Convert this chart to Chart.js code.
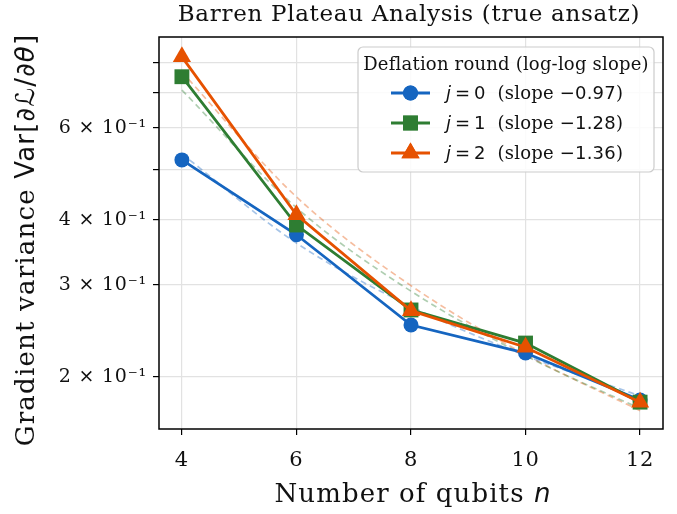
<!DOCTYPE html>
<html>
<head>
<meta charset="utf-8">
<script src="https://cdn.jsdelivr.net/npm/chart.js@4.4.1/dist/chart.umd.min.js"></script>
<style>
  html, body { margin: 0; padding: 0; background: #fff; }
  #wrap { width: 677px; height: 514px; position: relative; }
</style>
</head>
<body>
<div id="wrap"><canvas id="c" width="677" height="514"></canvas></div>
<script>
// ---- data ----
const nQubits = [4, 6, 8, 10, 12];
const varJ0 = [0.521, 0.3745, 0.2515, 0.2223, 0.1807];
const varJ1 = [0.752, 0.391, 0.2688, 0.2323, 0.179];
const varJ2 = [0.821, 0.409, 0.268, 0.228, 0.179];
const fitJ0 = [0.535, 0.361, 0.273, 0.2198, 0.184];
const fitJ1 = [0.709, 0.422, 0.292, 0.2196, 0.174];
const fitJ2 = [0.768, 0.4426, 0.2992, 0.2207, 0.1724];
const roundLabels = ['0', '1', '2'];
const slopeLabels = ['\u22120.97', '\u22121.28', '\u22121.36'];
const xTicks = [4, 6, 8, 10, 12];
const yTicks = [0.2, 0.3, 0.4, 0.5, 0.6, 0.7, 0.8];
const yTickLabels = {0.2: '2', 0.3: '3', 0.4: '4', 0.6: '6'};

const colors = ['#1565C0', '#2E7D32', '#E65100'];
const fitColors = ['rgba(21,101,192,0.38)', 'rgba(46,125,50,0.38)', 'rgba(230,81,0,0.38)'];
const markers = ['circle', 'rect', 'triangle'];
const markerRadius = [7.5, 10.5, 10.5];

const SERIF = '"DejaVu Serif", serif';
const SANS = '"DejaVu Sans", sans-serif';

function pts(arr) { return nQubits.map((n, i) => ({x: n, y: arr[i]})); }

const series = [varJ0, varJ1, varJ2];
const fits = [fitJ0, fitJ1, fitJ2];
const datasets = [];
series.forEach((s, i) => {
  datasets.push({
    label: 'j=' + roundLabels[i],
    data: pts(s),
    borderColor: colors[i],
    backgroundColor: colors[i],
    borderWidth: 2.8,
    pointStyle: markers[i],
    pointRadius: markerRadius[i],
    pointHoverRadius: markerRadius[i],
    pointBorderWidth: 0,
    order: 3 - i
  });
});
fits.forEach((s, i) => {
  datasets.push({
    label: 'fit j=' + roundLabels[i],
    data: pts(s),
    borderColor: fitColors[i],
    borderWidth: 1.7,
    borderDash: [6, 4],
    pointRadius: 0,
    cubicInterpolationMode: 'monotone',
    order: 10
  });
});

function drawRuns(ctx, runs, x, y, align, ls) {
  ctx.letterSpacing = (ls || 0) + 'px';
  let total = 0;
  runs.forEach(r => { ctx.font = r.f; r.w = ctx.measureText(r.t).width; total += r.w; });
  let cx = align === 'left' ? x : x - total / 2;
  ctx.textBaseline = 'alphabetic';
  ctx.textAlign = 'left';
  runs.forEach(r => { ctx.font = r.f; ctx.fillStyle = r.c || '#111'; ctx.fillText(r.t, cx, y); cx += r.w; });
  return total;
}

const spacing = {
  id: 'spacing',
  beforeDraw(chart) { chart.ctx.letterSpacing = '0.8px'; }
};

const decor = {
  id: 'decor',
  afterDatasetsDraw(chart) {
    const ctx = chart.ctx, a = chart.chartArea;
    ctx.save();
    // frame
    ctx.strokeStyle = '#000';
    ctx.lineWidth = 1.5;
    ctx.strokeRect(a.left, a.top, a.right - a.left, a.bottom - a.top);
    // title
    drawRuns(ctx, [{t: 'Barren Plateau Analysis (true ansatz)', f: '23px ' + SERIF}], 409, 21, 'center', 0.7);
    // x title
    drawRuns(ctx, [
      {t: 'Number of qubits ', f: '26px ' + SERIF},
      {t: 'n', f: 'italic 26px ' + SANS}
    ], 413, 502, 'center', 1.1);
    // y title (rotated)
    ctx.save();
    ctx.translate(34, 240);
    ctx.rotate(-Math.PI / 2);
    drawRuns(ctx, [
      {t: 'Gradient variance ', f: '26px ' + SERIF},
      {t: 'Var[', f: '26px ' + SANS},
      {t: '\u2202', f: 'italic 26px ' + SANS},
      {t: '\u2112', f: '26px ' + SANS},
      {t: '/', f: '26px ' + SANS},
      {t: '\u2202\u03B8', f: 'italic 26px ' + SANS},
      {t: ']', f: '26px ' + SANS}
    ], 0, 0, 'center', 1.2);
    ctx.restore();
    // legend
    const lx = 358, ly = 47, lw = 296, lh = 125, rad = 5;
    ctx.beginPath();
    ctx.moveTo(lx + rad, ly);
    ctx.arcTo(lx + lw, ly, lx + lw, ly + lh, rad);
    ctx.arcTo(lx + lw, ly + lh, lx, ly + lh, rad);
    ctx.arcTo(lx, ly + lh, lx, ly, rad);
    ctx.arcTo(lx, ly, lx + lw, ly, rad);
    ctx.closePath();
    ctx.fillStyle = 'rgba(255,255,255,0.85)';
    ctx.fill();
    ctx.strokeStyle = '#cccccc';
    ctx.lineWidth = 1.2;
    ctx.stroke();
    drawRuns(ctx, [{t: 'Deflation round (log-log slope)', f: '18px ' + SERIF}], lx + lw / 2, 70, 'center', 0.2);
    const rows = [93, 123, 153];
    rows.forEach((ry, i) => {
      ctx.strokeStyle = colors[i];
      ctx.lineWidth = 2.8;
      ctx.beginPath();
      ctx.moveTo(391, ry); ctx.lineTo(430, ry); ctx.stroke();
      ctx.fillStyle = colors[i];
      ctx.strokeStyle = colors[i];
      Chart.helpers.drawPoint(ctx, {pointStyle: markers[i], radius: markerRadius[i], borderWidth: 0}, 410.5, ry);
      ctx.fill();
      drawRuns(ctx, [
        {t: 'j', f: 'italic 18px ' + SANS},
        {t: '\u2009=\u2009' + roundLabels[i], f: '18px ' + SANS},
        {t: '  (slope ', f: '18px ' + SERIF},
        {t: slopeLabels[i], f: '18px ' + SANS},
        {t: ')', f: '18px ' + SERIF}
      ], 446, ry + 6, 'left', 0.2);
    });
    ctx.restore();
  }
};

new Chart(document.getElementById('c'), {
  type: 'line',
  data: { datasets },
  plugins: [spacing, decor],
  options: {
    responsive: false,
    animation: false,
    events: [],
    layout: { padding: { left: 0, right: 14, top: 37, bottom: 0 } },
    plugins: { legend: { display: false }, tooltip: { enabled: false }, title: { display: false } },
    scales: {
      x: {
        type: 'linear', min: 3.6, max: 12.4,
        afterBuildTicks: s => { s.ticks = xTicks.map(v => ({value: v})); },
        afterFit: s => { s.height = 85; },
        grid: { color: '#e2e2e2', lineWidth: 1.2, tickColor: '#000', tickLength: 6, drawTicks: true },
        border: { display: false },
        ticks: { color: '#111', font: { family: SERIF, size: 21 }, padding: 13, maxRotation: 0 }
      },
      y: {
        type: 'logarithmic', min: 0.159, max: 0.896,
        afterBuildTicks: s => { s.ticks = yTicks.map(v => ({value: v})); },
        afterFit: s => { s.width = 159; },
        grid: { color: '#e2e2e2', lineWidth: 1.2, tickColor: '#000', tickLength: 6, drawTicks: true },
        border: { display: false },
        ticks: {
          color: '#111', font: { family: SERIF, size: 19 }, padding: 6,
          callback: v => yTickLabels[v] ? yTickLabels[v] + ' \u00D7 10\u207B\u00B9' : ''
        }
      }
    }
  }
});
</script>
</body>
</html>
